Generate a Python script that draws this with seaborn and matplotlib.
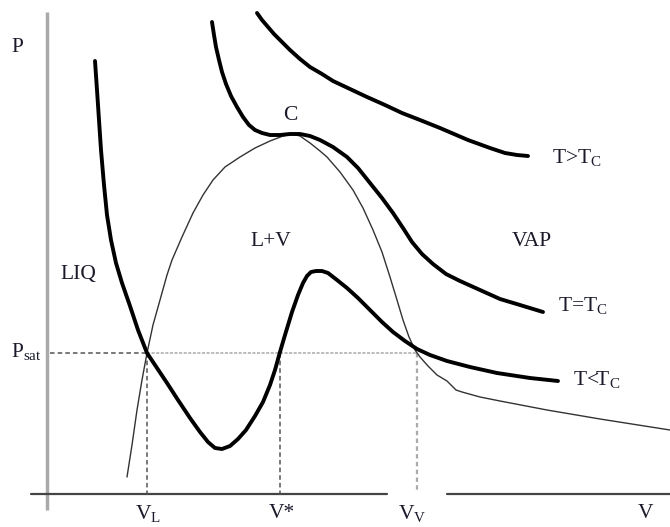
import matplotlib
matplotlib.use('Agg')
import matplotlib.pyplot as plt
import pandas as pd
import seaborn as sns

# V to the right of the P axis, P above the V axis (arbitrary units)
v_below = [48, 50, 52, 54, 57, 60, 64, 69, 75, 83, 91, 100, 110, 120, 131, 143, 153, 161, 168,
           175, 183, 191, 199, 208, 216, 223, 228, 233, 238, 245, 251, 256, 260, 264, 269, 275,
           281, 290, 300, 311, 323, 335, 346, 358, 370, 383, 400, 423, 450, 483, 511]
p_below = [433, 404, 374, 344, 309, 279, 254, 231, 211, 188, 164, 141, 126, 111, 94, 76, 62, 52, 46,
           45, 48, 55, 64, 78, 92, 109, 124, 142, 159, 182, 199, 211, 218, 222, 223, 223,
           221, 214, 206, 196, 184, 172, 162, 153, 145, 139, 133, 127, 121, 116, 113]

v_crit = [165, 167, 169, 172, 175, 179, 184, 190, 196, 202, 208, 215, 223, 233, 243, 253, 263,
          273, 286, 300, 311, 323, 335, 346, 356, 365, 375, 386, 399, 413, 433, 453, 473, 496]
p_crit = [472, 459, 447, 434, 422, 410, 398, 387, 377, 369, 364, 361, 359, 359, 360, 360, 358,
          354, 347, 337, 326, 311, 296, 281, 266, 252, 240, 230, 220, 213, 204, 195, 189, 182]

v_above = [210, 215, 221, 227, 233, 243, 253, 263, 275, 286, 303, 320, 338, 355, 373, 393, 421,
           443, 458, 470, 481]
p_above = [481, 474, 467, 460, 454, 444, 435, 427, 420, 413, 405, 397, 389, 381, 374, 366, 354,
           346, 341, 339, 338]

v_dome = [80, 85, 90, 95, 100, 106, 113, 120, 125, 135, 146, 156, 166, 178, 193, 208, 223,
          236, 245, 253, 263, 273, 280, 293, 306, 316, 326, 335, 343, 350, 356, 362, 368,
          373, 381, 390, 400, 405, 409, 415, 433, 453, 500, 553, 623]
p_dome = [17, 49, 84, 114, 141, 169, 194, 219, 234, 257, 281, 299, 314, 327, 337, 346, 353,
          358, 360, 358, 351, 343, 337, 322, 304, 286, 264, 242, 217, 194, 174, 157, 144,
          137, 128, 119, 113, 108, 104, 102, 97, 93, 84, 75, 64]

p_sat = 141
v_liq, v_star, v_vap = 100, 233, 370

sns.set_theme(style='white')
plt.rcParams['font.family'] = ['Liberation Serif', 'DejaVu Serif']
plt.rcParams['mathtext.fontset'] = 'custom'
plt.rcParams['mathtext.rm'] = 'Liberation Serif'
plt.rcParams['mathtext.it'] = 'Liberation Serif:italic'

fig = plt.figure(figsize=(6.7, 5.27), dpi=100)
ax = fig.add_axes([0, 0, 1, 1])
ax.set_xlim(-47, 623)
ax.set_ylim(-33, 494)
ax.axis('off')

# axes of the diagram
ax.plot([0, 0], [-16, 482], color='#aaaaaa', lw=2.5, solid_capstyle='butt')
ax.plot([-16, 340], [0, 0], color='#444444', lw=1.6)
ax.plot([400, 623], [0, 0], color='#444444', lw=1.6)

# dashed guides
ax.plot([3, v_liq], [p_sat, p_sat], color='#555555', lw=1.1, dashes=(3, 2))
ax.plot([v_liq, v_vap], [p_sat, p_sat], color='#aaaaaa', lw=1.1, dashes=(2, 1))
ax.plot([v_liq, v_liq], [p_sat, 0], color='#555555', lw=1.1, dashes=(3, 2))
ax.plot([v_star, v_star], [p_sat, 0], color='#555555', lw=1.1, dashes=(3, 2))
ax.plot([v_vap, v_vap], [p_sat, 4], color='#aaaaaa', lw=1.6, dashes=(2, 1.5))

# saturation dome
dome = pd.DataFrame({'V': v_dome, 'P': p_dome})
sns.lineplot(data=dome, x='V', y='P', sort=False, estimator=None, color='#333333', lw=1.0,
             solid_joinstyle='round', ax=ax)

# isotherms
for vv, pp in [(v_below, p_below), (v_crit, p_crit), (v_above, p_above)]:
    iso = pd.DataFrame({'V': vv, 'P': pp})
    sns.lineplot(data=iso, x='V', y='P', sort=False, estimator=None, color='black', lw=2.8,
                 solid_joinstyle='round', ax=ax)

tc = dict(fontsize=15.5, color='#1a1a2a', va='center')
ax.text(-30, 446, 'P', ha='center', **tc)
ax.text(-21, p_sat + 2, r'P$_{\mathrm{sat}}$', ha='center', **tc)
ax.text(v_liq + 1, -19, r'V$_{\mathrm{L}}$', ha='center', **tc)
ax.text(v_star + 2, -19, 'V*', ha='center', **tc)
ax.text(v_vap - 5, -19, r'V$_{\mathrm{V}}$', ha='center', **tc)
ax.text(598, -19, 'V', ha='center', **tc)
ax.text(31, 220, 'LIQ', ha='center', **tc)
ax.text(224, 253, 'L+V', ha='center', **tc)
ax.text(243, 379, 'C', ha='center', **tc)
ax.text(485, 252, 'VAP', ha='center', **tc)
ax.text(505, 336, r'T>T$_{\mathrm{C}}$', ha='left', **tc)
ax.text(511, 188, r'T=T$_{\mathrm{C}}$', ha='left', **tc)
ax.text(526, 115, r'T<T$_{\mathrm{C}}$', ha='left', **tc)

fig.savefig('out.png', dpi=100)
